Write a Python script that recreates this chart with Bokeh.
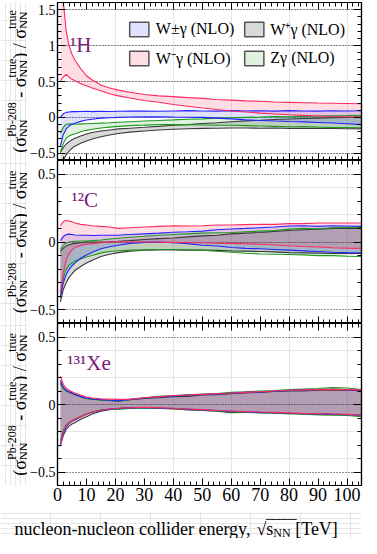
import math
from bokeh.plotting import figure
from bokeh.layouts import column, row
from bokeh.models import (ColumnDataSource, FixedTicker, LinearAxis, Label, Legend,
                          LegendItem, Range1d, Grid)
from bokeh.embed import file_html
from bokeh.resources import INLINE

# ---------------- data ----------------
energy = [1, 2, 3, 4, 5, 6, 8, 10, 12, 15, 18, 21, 25, 30, 35, 40, 45, 50, 55, 60,
          65, 70, 75, 80, 85, 90, 95, 100, 105]

series_names = ["W\u00b1\u03b3 (NLO)", "W\u207a\u03b3 (NLO)", "W\u207b\u03b3 (NLO)", "Z\u03b3 (NLO)"]
nuclei = ["\u00b9H", "\u00b9\u00b2C", "\u00b9\u00b3\u00b9Xe"]

# 1H panel
h_wm_hi = [2.6, 1.62, 1.2, 1.0, 0.88, 0.8, 0.68, 0.58, 0.52, 0.45, 0.41, 0.38, 0.35, 0.32, 0.30,
           0.29, 0.275, 0.265, 0.25, 0.24, 0.23, 0.225, 0.215, 0.21, 0.205, 0.2, 0.197, 0.193, 0.19]
h_wm_lo = [0.51, 0.56, 0.6, 0.56, 0.53, 0.51, 0.47, 0.44, 0.41, 0.37, 0.33, 0.30, 0.27, 0.235, 0.21,
           0.18, 0.155, 0.13, 0.11, 0.09, 0.075, 0.06, 0.048, 0.037, 0.028, 0.02, 0.013, 0.007, 0.002]
h_wpm_hi = [0.0, 0.05, 0.07, 0.075, 0.08, 0.08, 0.083, 0.085, 0.08, 0.085, 0.082, 0.085, 0.088, 0.09, 0.085,
            0.09, 0.095, 0.09, 0.088, 0.095, 0.09, 0.092, 0.088, 0.095, 0.09, 0.088, 0.092, 0.09, 0.092]
h_wpm_lo = [-0.4, -0.24, -0.16, -0.12, -0.095, -0.08, -0.055, -0.036, -0.025, -0.01, -0.005, 0.0, 0.005, 0.008, 0.009,
            0.005, 0.003, 0.0, -0.01, -0.02, -0.035, -0.042, -0.05, -0.057, -0.062, -0.07, -0.078, -0.088, -0.1]
h_z_hi = [-0.22, -0.14, -0.095, -0.09, -0.092, -0.095, -0.09, -0.088, -0.085, -0.08, -0.075, -0.068, -0.06, -0.05, -0.042,
          -0.035, -0.025, -0.02, -0.01, -0.005, 0.0, 0.005, 0.012, 0.01, 0.015, 0.02, 0.022, 0.025, 0.03]
h_z_lo = [-0.49, -0.36, -0.29, -0.26, -0.24, -0.23, -0.2, -0.18, -0.165, -0.147, -0.135, -0.125, -0.115, -0.108, -0.1,
          -0.098, -0.1, -0.105, -0.11, -0.11, -0.115, -0.12, -0.125, -0.13, -0.128, -0.135, -0.14, -0.14, -0.145]
h_wp_hi = [-0.48, -0.42, -0.37, -0.34, -0.31, -0.29, -0.26, -0.23, -0.21, -0.19, -0.175, -0.16, -0.15, -0.138, -0.125,
           -0.11, -0.1, -0.085, -0.075, -0.06, -0.048, -0.04, -0.03, -0.022, -0.015, -0.01, -0.005, 0.0, 0.005]
h_wp_lo = [-0.75, -0.6, -0.52, -0.47, -0.43, -0.4, -0.36, -0.33, -0.3, -0.27, -0.245, -0.225, -0.205, -0.19, -0.175,
           -0.165, -0.158, -0.152, -0.15, -0.148, -0.148, -0.15, -0.148, -0.152, -0.15, -0.155, -0.155, -0.158, -0.16]

# 12C panel
c_wm_hi = [0.12, 0.15, 0.16, 0.155, 0.15, 0.14, 0.13, 0.125, 0.12, 0.115, 0.11, 0.1, 0.105, 0.11, 0.115,
           0.12, 0.118, 0.12, 0.125, 0.125, 0.128, 0.13, 0.13, 0.135, 0.135, 0.14, 0.14, 0.14, 0.14]
c_wm_lo = [-0.37, -0.23, -0.13, -0.085, -0.06, -0.04, -0.025, -0.017, -0.012, -0.005, 0.0, 0.002, 0.0, 0.0, -0.002,
           -0.003, -0.005, -0.005, -0.008, -0.01, -0.013, -0.017, -0.022, -0.028, -0.033, -0.037, -0.042, -0.045, -0.047]
c_wpm_hi = [0.01, 0.04, 0.055, 0.058, 0.055, 0.052, 0.05, 0.05, 0.048, 0.05, 0.05, 0.05, 0.055, 0.06, 0.065,
            0.072, 0.075, 0.08, 0.09, 0.096, 0.1, 0.105, 0.11, 0.118, 0.12, 0.115, 0.12, 0.118, 0.115]
c_wpm_lo = [-0.41, -0.3, -0.24, -0.2, -0.175, -0.155, -0.12, -0.095, -0.075, -0.05, -0.035, -0.024, -0.01, -0.003, 0.0,
            -0.005, -0.012, -0.024, -0.03, -0.04, -0.047, -0.05, -0.055, -0.06, -0.065, -0.07, -0.075, -0.078, -0.08]
c_z_hi = [-0.055, -0.025, -0.007, 0.0, 0.003, 0.005, 0.007, 0.008, 0.01, 0.015, 0.022, 0.028, 0.035, 0.042, 0.05,
          0.055, 0.06, 0.065, 0.068, 0.07, 0.075, 0.08, 0.085, 0.095, 0.1, 0.098, 0.105, 0.108, 0.108]
c_z_lo = [-0.4, -0.27, -0.2, -0.17, -0.155, -0.14, -0.125, -0.11, -0.1, -0.08, -0.07, -0.064, -0.06, -0.058, -0.055,
          -0.055, -0.058, -0.06, -0.068, -0.075, -0.083, -0.088, -0.09, -0.092, -0.095, -0.1, -0.1, -0.105, -0.107]
c_wp_hi = [-0.07, -0.045, -0.03, -0.02, -0.015, -0.01, -0.005, 0.0, 0.0, 0.0, 0.002, 0.005, 0.01, 0.018, 0.025,
           0.03, 0.038, 0.045, 0.05, 0.06, 0.065, 0.07, 0.078, 0.085, 0.09, 0.095, 0.1, 0.1, 0.1]
c_wp_lo = [-0.44, -0.35, -0.3, -0.26, -0.235, -0.21, -0.18, -0.155, -0.135, -0.107, -0.09, -0.078, -0.067, -0.06, -0.058,
           -0.058, -0.06, -0.06, -0.062, -0.065, -0.067, -0.07, -0.073, -0.078, -0.08, -0.082, -0.085, -0.085, -0.085]

# 131Xe panel
x_wm_hi = [0.21, 0.15, 0.12, 0.105, 0.095, 0.085, 0.07, 0.055, 0.048, 0.042, 0.04, 0.038, 0.04, 0.05, 0.058,
           0.065, 0.07, 0.075, 0.08, 0.085, 0.09, 0.095, 0.1, 0.105, 0.108, 0.11, 0.112, 0.11, 0.108]
x_wm_lo = [-0.3, -0.2, -0.155, -0.135, -0.12, -0.11, -0.09, -0.07, -0.056, -0.042, -0.033, -0.028, -0.024, -0.02, -0.024,
           -0.028, -0.033, -0.038, -0.044, -0.048, -0.053, -0.056, -0.058, -0.062, -0.066, -0.068, -0.07, -0.073, -0.078]
x_wpm_hi = [0.18, 0.13, 0.105, 0.095, 0.085, 0.075, 0.06, 0.048, 0.042, 0.036, 0.032, 0.028, 0.038, 0.048, 0.056,
            0.062, 0.068, 0.073, 0.078, 0.083, 0.09, 0.093, 0.098, 0.104, 0.108, 0.11, 0.113, 0.108, 0.105]
x_wpm_lo = [-0.31, -0.21, -0.165, -0.14, -0.125, -0.115, -0.093, -0.073, -0.058, -0.044, -0.034, -0.03, -0.025, -0.022, -0.026,
            -0.03, -0.035, -0.04, -0.045, -0.05, -0.055, -0.058, -0.06, -0.065, -0.068, -0.07, -0.072, -0.075, -0.08]
x_z_hi = [0.15, 0.12, 0.1, 0.09, 0.085, 0.075, 0.06, 0.045, 0.04, 0.032, 0.03, 0.025, 0.035, 0.05, 0.06,
          0.066, 0.072, 0.078, 0.082, 0.09, 0.095, 0.1, 0.103, 0.11, 0.115, 0.118, 0.125, 0.122, 0.11]
x_z_lo = [-0.27, -0.19, -0.15, -0.13, -0.118, -0.108, -0.088, -0.068, -0.055, -0.04, -0.035, -0.036, -0.03, -0.028, -0.028,
          -0.033, -0.037, -0.043, -0.048, -0.055, -0.058, -0.062, -0.065, -0.07, -0.072, -0.078, -0.08, -0.082, -0.09]
x_wp_hi = [0.16, 0.12, 0.1, 0.092, 0.082, 0.072, 0.058, 0.045, 0.04, 0.035, 0.03, 0.025, 0.035, 0.045, 0.05,
           0.058, 0.06, 0.07, 0.072, 0.08, 0.085, 0.09, 0.096, 0.1, 0.1, 0.105, 0.108, 0.105, 0.103]
x_wp_lo = [-0.3, -0.23, -0.185, -0.16, -0.145, -0.135, -0.11, -0.09, -0.07, -0.05, -0.038, -0.03, -0.022, -0.025, -0.03,
           -0.032, -0.04, -0.045, -0.05, -0.06, -0.058, -0.06, -0.063, -0.065, -0.07, -0.07, -0.073, -0.075, -0.078]

x_ticks = [0, 10, 20, 30, 40, 50, 60, 70, 80, 90, 100]
x_tick_labels = ["0", "10", "20", "30", "40", "50", "60", "70", "80", "90", "100"]
y_ticks_top = [-0.5, 0, 0.5, 1, 1.5]
y_tick_labels_top = ["\u22120.5", "0", "0.5", "1", "1.5"]
y_ticks = [-0.5, 0, 0.5]
y_tick_labels = ["\u22120.5", "0", "0.5"]

# ---------------- style ----------------
SERIF = "Liberation Serif"
COL = {"pm": "#2323ff", "wp": "#3a3a3a", "wm": "#ff2a5f", "z": "#1f9a1f"}
FILL = {"pm": ("#0000ff", 0.12), "wp": ("#000000", 0.15), "wm": ("#ff1e50", 0.15), "z": ("#008c00", 0.12)}
PURPLE = "#7a1a7a"
TWID = 27          # width of the y-title strip
PLB = 28           # left border of each panel (tick labels)
FW = 304
XMAX = 105
TOTW = TWID + PLB + FW + 2

TW = {'(': .333, ')': .333, '\u03c3': .55, ' ': .25, '-': .333, '/': .278, 'P': .556, 'b': .5,
      '0': .5, '1': .5, '2': .5, '8': .5, 'N': .722, 't': .278, 'r': .333, 'u': .5, 'e': .444,
      'n': .5, 'c': .444, 'l': .278, 'o': .5, 'i': .278, 'd': .5, 'g': .5, 'y': .5, ',': .25,
      '\u221a': .549, 's': .389, '[': .333, ']': .333, 'T': .611, 'V': .722}


def tw(s, size):
    return sum(TW.get(ch, .5) for ch in s) * size


def style_axis(ax, ticker, labels=None, size="14px", tick_in=8, minor_in=4):
    ax.ticker = ticker
    ax.axis_line_color = "black"
    ax.axis_line_width = 1.2
    ax.major_tick_in = tick_in
    ax.major_tick_out = 0
    ax.minor_tick_in = minor_in
    ax.minor_tick_out = 0
    ax.major_tick_line_color = "black"
    ax.minor_tick_line_color = "black"
    if labels is not None:
        ax.major_label_text_font = SERIF
        ax.major_label_text_font_size = size
        ax.major_label_text_color = "black"
        ax.major_label_overrides = labels
        ax.major_label_standoff = 2
    else:
        ax.major_label_text_font_size = "0px"
        ax.major_label_text_color = None
        ax.major_label_standoff = 0


def blank_fig(w, h, top=0, bottom=0):
    f = figure(frame_width=w, frame_height=h, x_range=Range1d(0, w), y_range=Range1d(0, h),
               output_backend="svg", toolbar_location=None, x_axis_location=None, y_axis_location=None,
               min_border_left=0, min_border_right=0, min_border_top=top, min_border_bottom=bottom)
    f.outline_line_color = None
    f.background_fill_color = "white"
    f.border_fill_color = "white"
    return f


def y_title_fig(fh, top=0, bottom=0):
    t = blank_fig(TWID, fh, top, bottom)
    M, S = 18, 12
    seq = [("m", "(\u03c3"), ("s", ("Pb-208", "NN")), ("g", 0.25 * M), ("m", "- \u03c3"),
           ("s", ("true", "NN")), ("m", ") / \u03c3"), ("s", ("true", "NN"))]
    L = 0
    for kind, tx in seq:
        if kind == "m":
            L += tw(tx, M)
        elif kind == "s":
            L += max(tw(tx[0], S), tw(tx[1], S))
        else:
            L += tx
    s = fh / 2 - L / 2
    bx = 19
    common = dict(angle=math.pi / 2, text_baseline="alphabetic", text_align="left",
                  text_font=SERIF, text_color="black")
    for kind, tx in seq:
        if kind == "m":
            t.add_layout(Label(x=bx, y=s, text=tx, text_font_size=f"{M}px", **common))
            s += tw(tx, M)
        elif kind == "s":
            t.add_layout(Label(x=bx - 7.5, y=s, text=tx[0], text_font_size=f"{S}px", **common))
            t.add_layout(Label(x=bx + 4.5, y=s, text=tx[1], text_font_size=f"{S}px", **common))
            s += max(tw(tx[0], S), tw(tx[1], S))
        else:
            s += tx
    return t


def make_panel(ymin, ymax, fh, yt, ylab, top_border=0, bottom_border=0, xlabels=False):
    p = figure(frame_width=FW, frame_height=fh, x_range=Range1d(0, XMAX), y_range=Range1d(ymin, ymax),
               output_backend="svg", toolbar_location=None, x_axis_location=None, y_axis_location=None,
               min_border_left=PLB, min_border_right=2, min_border_top=top_border,
               min_border_bottom=bottom_border, background_fill_color="white",
               border_fill_color="white")
    p.outline_line_color = "black"
    p.outline_line_width = 1.2
    yminor = [round(-0.6 + 0.1 * i, 2) for i in range(23)]
    xminor = list(range(0, 106, 2))
    yov = {t: l for t, l in zip(yt, ylab)}
    xov = {t: l for t, l in zip(x_ticks, x_tick_labels)}
    left = LinearAxis()
    style_axis(left, FixedTicker(ticks=yt, minor_ticks=yminor), yov)
    p.add_layout(left, "left")
    right = LinearAxis()
    style_axis(right, FixedTicker(ticks=yt, minor_ticks=yminor))
    p.add_layout(right, "right")
    above = LinearAxis()
    style_axis(above, FixedTicker(ticks=x_ticks, minor_ticks=xminor), tick_in=7, minor_in=4)
    p.add_layout(above, "above")
    below = LinearAxis()
    style_axis(below, FixedTicker(ticks=x_ticks, minor_ticks=xminor),
               xov if xlabels else None, size="18px", tick_in=7, minor_in=4)
    p.add_layout(below, "below")
    g = Grid(dimension=1, ticker=FixedTicker(ticks=yt))
    g.grid_line_color = "#222222"
    g.grid_line_dash = "1 2"
    g.grid_line_width = 1.0
    p.add_layout(g)
    return p


def draw_bands(p, bands):
    for key, hi, lo in bands:
        src = ColumnDataSource(dict(x=energy, hi=hi, lo=lo))
        fc, fa = FILL[key]
        p.varea(x="x", y1="lo", y2="hi", source=src, fill_color=fc, fill_alpha=fa)
    for key, hi, lo in bands:
        src = ColumnDataSource(dict(x=energy, hi=hi, lo=lo))
        p.line(x="x", y="hi", source=src, line_color=COL[key], line_width=1.1)
        p.line(x="x", y="lo", source=src, line_color=COL[key], line_width=1.1)


def nucleus_label(p, x, y, text):
    p.add_layout(Label(x=x, y=y, text=text, text_font=SERIF, text_font_size="21px",
                       text_color=PURPLE, text_baseline="alphabetic"))


# ---------------- panels ----------------
H1, H2, H3 = 158, 163, 162
B3 = 26
p1 = make_panel(-0.6, 1.6, H1, y_ticks_top, y_tick_labels_top, top_border=2)
draw_bands(p1, [("wp", h_wp_hi, h_wp_lo), ("z", h_z_hi, h_z_lo),
                ("pm", h_wpm_hi, h_wpm_lo), ("wm", h_wm_hi, h_wm_lo)])
nucleus_label(p1, 4.3, 1.01, nuclei[0])

p2 = make_panel(-0.6, 0.6, H2, y_ticks, y_tick_labels)
draw_bands(p2, [("wp", c_wp_hi, c_wp_lo), ("z", c_z_hi, c_z_lo),
                ("pm", c_wpm_hi, c_wpm_lo), ("wm", c_wm_hi, c_wm_lo)])
nucleus_label(p2, 4.8, 0.31, nuclei[1])

p3 = make_panel(-0.6, 0.6, H3, y_ticks, y_tick_labels, bottom_border=B3, xlabels=True)
draw_bands(p3, [("wp", x_wp_hi, x_wp_lo), ("z", x_z_hi, x_z_lo),
                ("pm", x_wpm_hi, x_wpm_lo), ("wm", x_wm_hi, x_wm_lo)])
nucleus_label(p3, 3.4, 0.31, nuclei[2])

# legend (top panel)
nan = float("nan")
items = []
for key, name in zip(["pm", "wp", "wm", "z"], series_names):
    fc, fa = FILL[key]
    r = p1.quad(left=[nan], right=[nan], top=[nan], bottom=[nan], fill_color=fc, fill_alpha=fa,
                line_color="#555555", line_width=1.5)
    items.append(LegendItem(label=name, renderers=[r]))
leg = Legend(items=items, location="top_right", orientation="horizontal", ncols=2,
             label_text_font=SERIF, label_text_font_size="16px", label_text_color="black",
             glyph_width=24, glyph_height=18, label_standoff=5, spacing=7, padding=0,
             margin=16, background_fill_alpha=0, border_line_alpha=0, label_height=18)
p1.add_layout(leg)

# y titles
t1 = y_title_fig(H1, top=2)
t2 = y_title_fig(H2)
t3 = y_title_fig(H3, bottom=B3)

# x title strip
XH = 27
xt = blank_fig(TOTW, XH)
M, S = 18, 12
ybase = 10
xs = 14
common = dict(text_font=SERIF, text_color="black", text_baseline="alphabetic", text_align="left")
txt1 = "nucleon-nucleon collider energy,"
xt.add_layout(Label(x=xs, y=ybase, text=txt1, text_font_size=f"{M}px", **common))
xs += tw(txt1, M) + 0.25 * M
xt.add_layout(Label(x=xs, y=ybase, text="\u221a", text_font_size=f"{M}px", **common))
xs += tw("\u221a", M)
x_over = xs
xt.add_layout(Label(x=xs, y=ybase, text="s", text_font_size=f"{M}px", **common))
xs += tw("s", M)
xt.add_layout(Label(x=xs, y=ybase - 4, text="NN", text_font_size=f"{S}px", **common))
xs += tw("NN", S)
xt.add_layout(Label(x=x_over, y=ybase + 1, text="\u203e\u203e\u203e\u203e\u203e",
                    text_font_size=f"{M}px", **common))
xs += 0.25 * M
xt.add_layout(Label(x=xs, y=ybase, text="[TeV]", text_font_size=f"{M}px", **common))

layout = column(row(t1, p1, spacing=0), row(t2, p2, spacing=0), row(t3, p3, spacing=0), xt, spacing=0)
open("out.html", "w").write(file_html(layout, INLINE))
